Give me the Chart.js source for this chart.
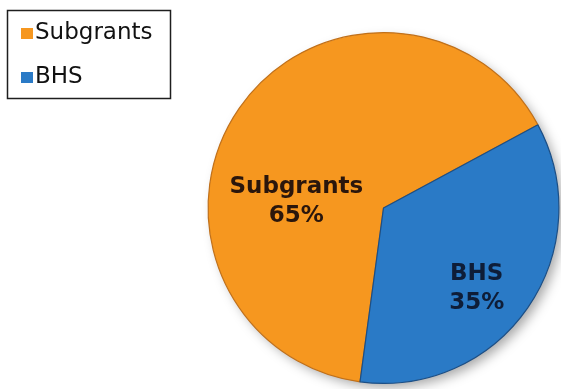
<!DOCTYPE html>
<html>
<head>
<meta charset="utf-8">
<script src="https://cdn.jsdelivr.net/npm/chart.js@4/dist/chart.umd.min.js"></script>
<style>
    html, body { margin: 0; padding: 0; background: #fff; }
    #chart-wrapper { position: relative; width: 561px; height: 389px; }
</style>
</head>
<body>
<div id="chart-wrapper"><canvas id="chart"></canvas></div>
<script>
const labels = ['Subgrants', 'BHS'];
const values = [65, 35];

const sliceColors = ['#F6971F', '#2A7AC6'];
const sliceEdges = ['#C0701A', '#1C4F86'];
const textColors = ['#2a160c', '#0e1d38'];
// where each in-slice label sits: [angle in degrees, fraction of radius]
const labelSpots = [[186.6, 0.50], [39.6, 0.69]];

// soft shadow behind the pie
const pieShadow = {
    id: 'pieShadow',
    beforeDatasetsDraw(chart) {
        const arc = chart.getDatasetMeta(0).data[0];
        if (!arc) return;
        const ctx = chart.ctx;
        ctx.save();
        ctx.shadowColor = 'rgba(0, 0, 0, 0.35)';
        ctx.shadowBlur = 12;
        ctx.shadowOffsetX = 5;
        ctx.shadowOffsetY = 5;
        ctx.fillStyle = '#888';
        ctx.beginPath();
        ctx.arc(arc.x, arc.y, arc.outerRadius - 1, 0, Math.PI * 2);
        ctx.fill();
        ctx.restore();
    }
};

// name + percent written inside each slice
const sliceLabels = {
    id: 'sliceLabels',
    afterDatasetsDraw(chart) {
        const meta = chart.getDatasetMeta(0);
        const data = chart.data.datasets[0].data;
        const total = data.reduce((a, b) => a + b, 0);
        const ctx = chart.ctx;
        ctx.save();
        ctx.font = 'bold 23px "DejaVu Sans"';
        ctx.textAlign = 'center';
        ctx.textBaseline = 'alphabetic';
        meta.data.forEach((arc, i) => {
            const a = labelSpots[i][0] * Math.PI / 180;
            const r = arc.outerRadius * labelSpots[i][1];
            const x = arc.x + Math.cos(a) * r;
            const y = arc.y + Math.sin(a) * r;
            ctx.fillStyle = textColors[i];
            ctx.fillText(chart.data.labels[i], x, y - 5);
            ctx.fillText(Math.round(data[i] / total * 100) + '%', x, y + 24);
        });
        ctx.restore();
    }
};

// boxed legend in the top-left corner
const boxLegend = {
    id: 'boxLegend',
    afterDraw(chart) {
        const ctx = chart.ctx;
        const ds = chart.data.datasets[0];
        ctx.save();
        ctx.strokeStyle = '#1e1e1e';
        ctx.lineWidth = 1.5;
        ctx.strokeRect(7.5, 10.5, 163, 88);
        ctx.font = '23px "DejaVu Sans"';
        ctx.textBaseline = 'alphabetic';
        chart.data.labels.forEach((label, i) => {
            const base = 39 + i * 44;
            ctx.fillStyle = ds.backgroundColor[i];
            ctx.fillRect(21, base - 11, 12, 11);
            ctx.fillStyle = '#111';
            ctx.fillText(label, 35, base);
        });
        ctx.restore();
    }
};

const chart = new Chart(document.getElementById('chart'), {
    type: 'pie',
    data: {
        labels: labels,
        datasets: [{
            data: values,
            backgroundColor: sliceColors,
            borderColor: sliceEdges,
            borderWidth: 1.2
        }]
    },
    options: {
        responsive: true,
        maintainAspectRatio: false,
        animation: false,
        rotation: 187.7,
        layout: {
            padding: { left: 206, right: 0, top: 32, bottom: 5 }
        },
        plugins: {
            legend: { display: false },
            tooltip: { enabled: false }
        }
    },
    plugins: [pieShadow, sliceLabels, boxLegend]
});
</script>
</body>
</html>
